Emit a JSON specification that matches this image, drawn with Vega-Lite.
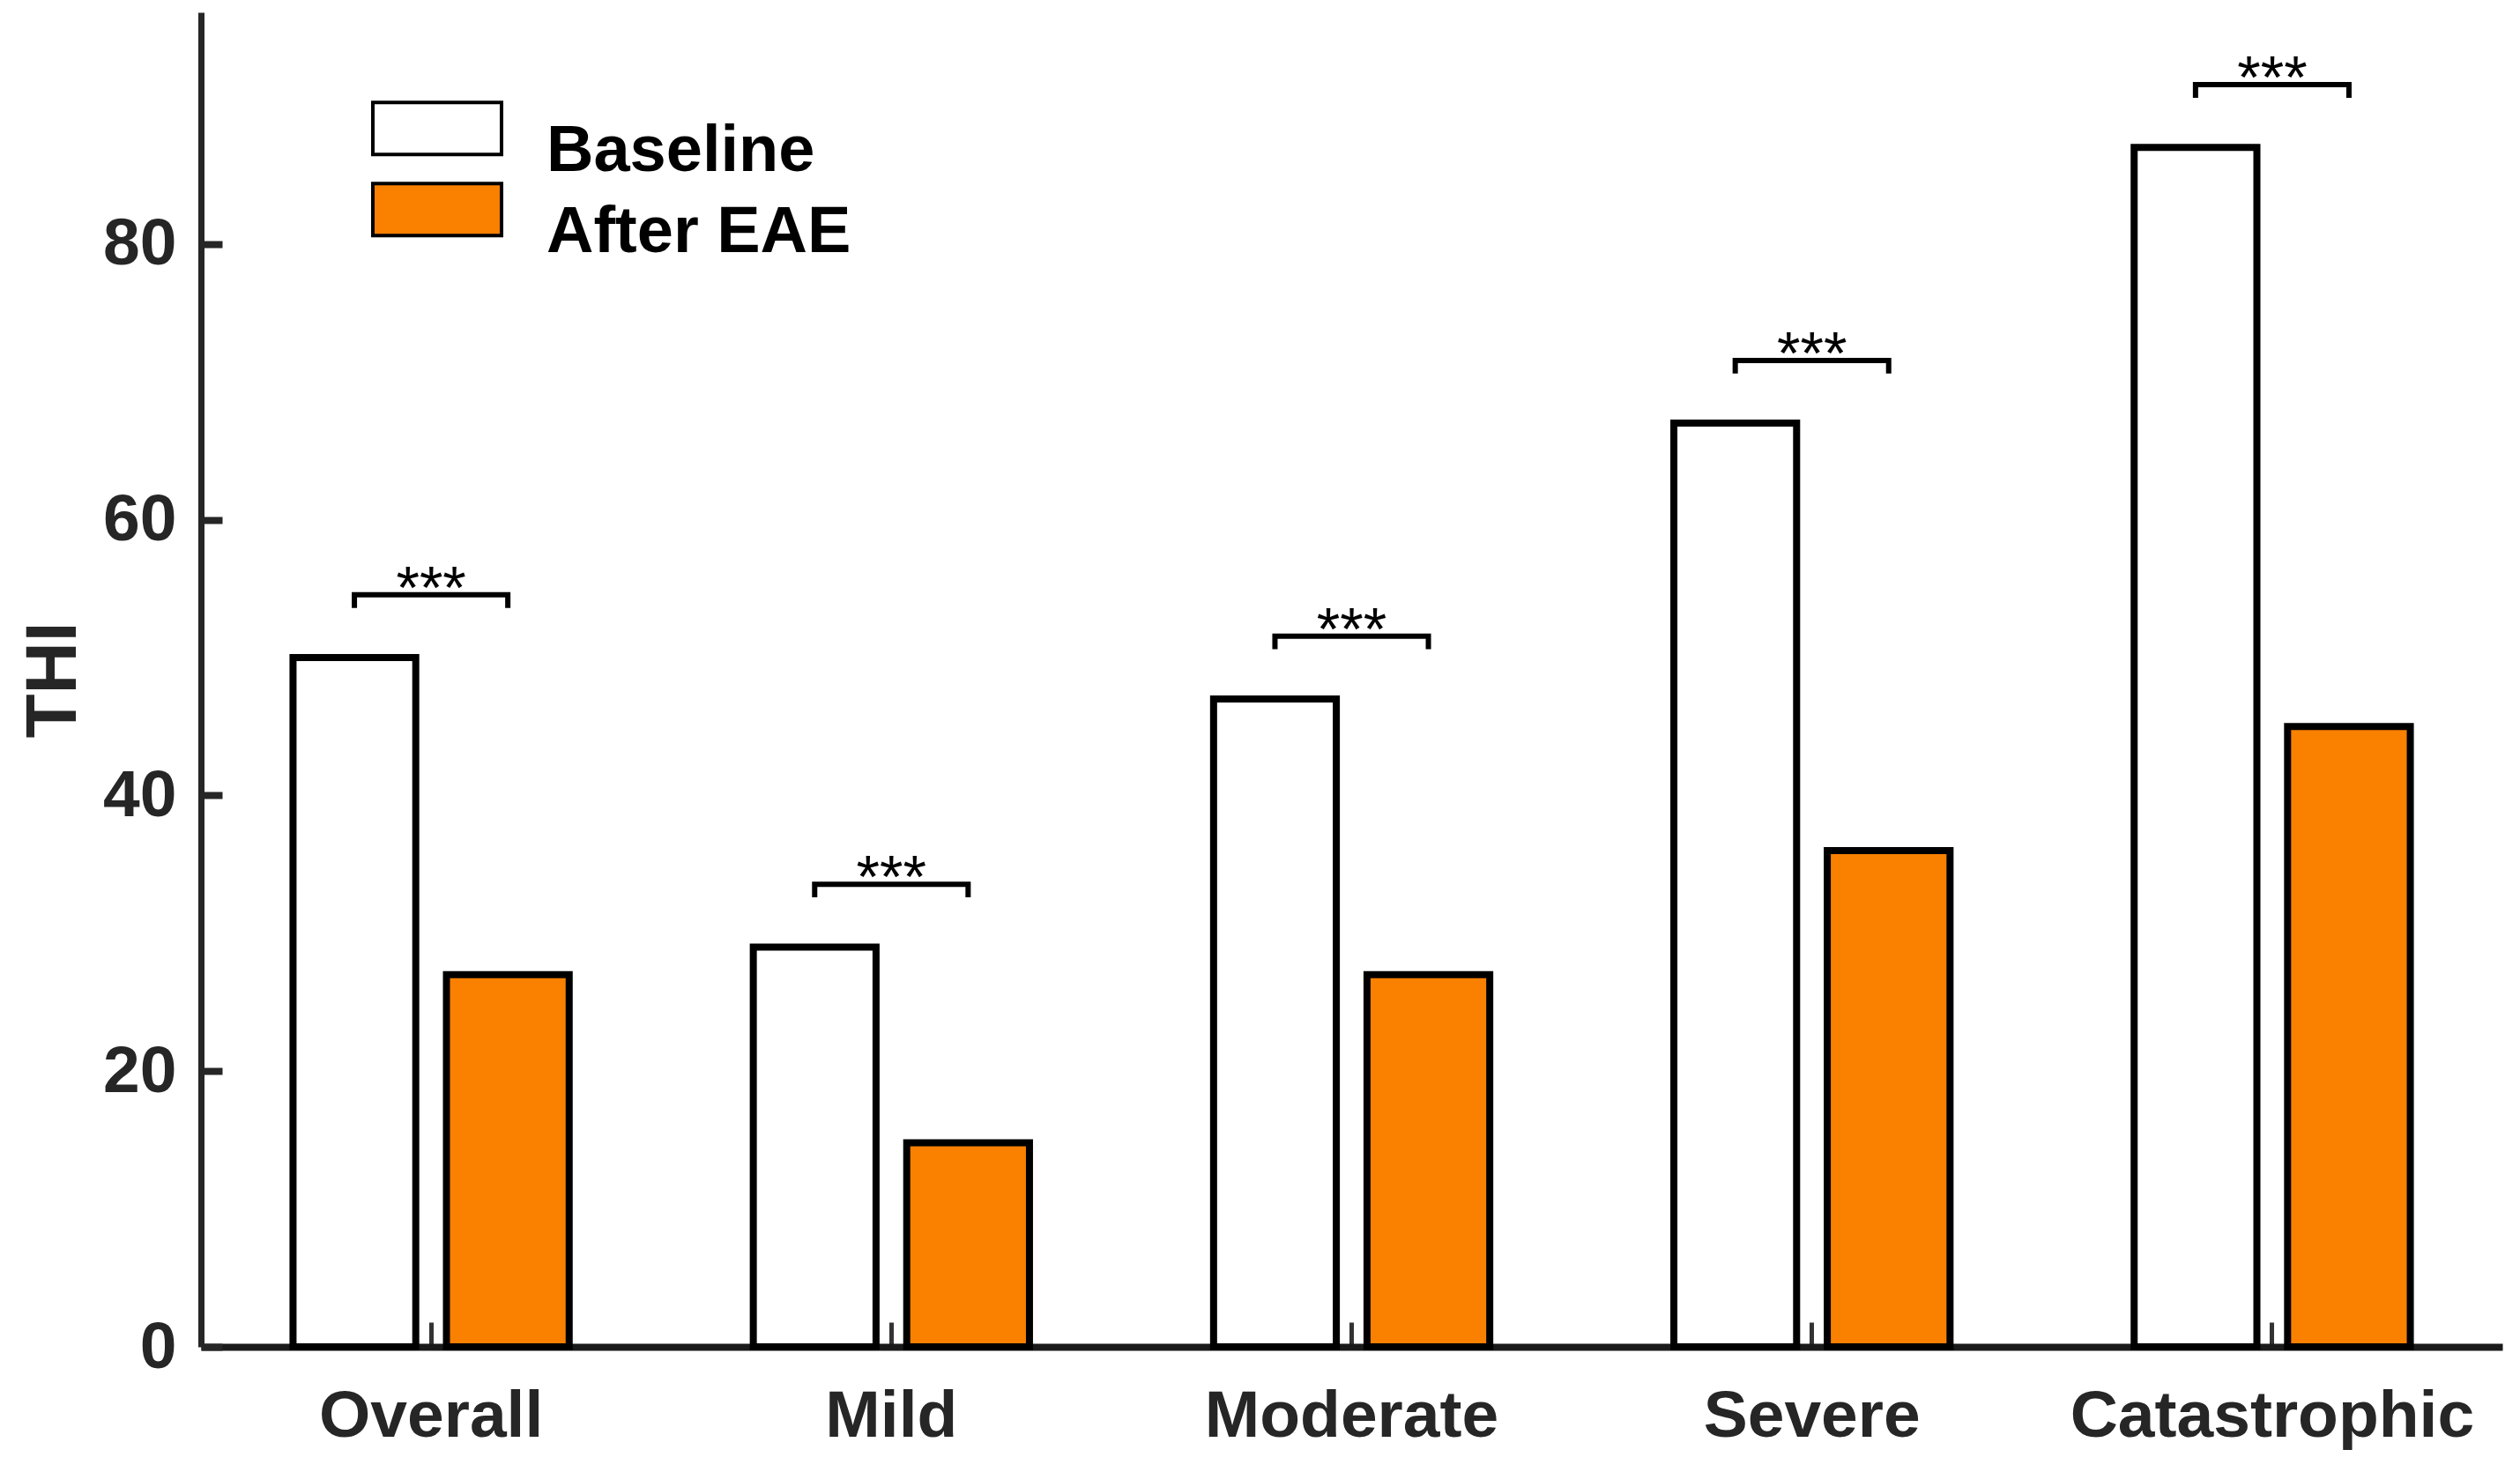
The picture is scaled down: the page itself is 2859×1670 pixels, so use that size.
{
  "$schema": "https://vega.github.io/schema/vega-lite/v6.json",
  "autosize": {"type": "none"},
  "padding": {"left": 228, "top": 14, "right": 20, "bottom": 142},
  "width": 2611,
  "height": 1514,
  "background": "white",
  "config": {"view": {"stroke": null}, "font": "Liberation Sans"},
  "datasets": {
    "bars": [
      {"group": "Overall", "condition": "Baseline", "THI": 50},
      {"group": "Overall", "condition": "After EAE", "THI": 27},
      {"group": "Mild", "condition": "Baseline", "THI": 29},
      {"group": "Mild", "condition": "After EAE", "THI": 14.8},
      {"group": "Moderate", "condition": "Baseline", "THI": 47},
      {"group": "Moderate", "condition": "After EAE", "THI": 27},
      {"group": "Severe", "condition": "Baseline", "THI": 67},
      {"group": "Severe", "condition": "After EAE", "THI": 36},
      {"group": "Catastrophic", "condition": "Baseline", "THI": 87},
      {"group": "Catastrophic", "condition": "After EAE", "THI": 45}
    ],
    "brackets": [
      {"group": "Overall", "condition": "Baseline", "k": 1, "y": 53.6},
      {"group": "Overall", "condition": "Baseline", "k": 2, "y": 54.55},
      {"group": "Overall", "condition": "After EAE", "k": 3, "y": 54.55},
      {"group": "Overall", "condition": "After EAE", "k": 4, "y": 53.6},
      {"group": "Mild", "condition": "Baseline", "k": 1, "y": 32.6},
      {"group": "Mild", "condition": "Baseline", "k": 2, "y": 33.55},
      {"group": "Mild", "condition": "After EAE", "k": 3, "y": 33.55},
      {"group": "Mild", "condition": "After EAE", "k": 4, "y": 32.6},
      {"group": "Moderate", "condition": "Baseline", "k": 1, "y": 50.6},
      {"group": "Moderate", "condition": "Baseline", "k": 2, "y": 51.55},
      {"group": "Moderate", "condition": "After EAE", "k": 3, "y": 51.55},
      {"group": "Moderate", "condition": "After EAE", "k": 4, "y": 50.6},
      {"group": "Severe", "condition": "Baseline", "k": 1, "y": 70.6},
      {"group": "Severe", "condition": "Baseline", "k": 2, "y": 71.55},
      {"group": "Severe", "condition": "After EAE", "k": 3, "y": 71.55},
      {"group": "Severe", "condition": "After EAE", "k": 4, "y": 70.6},
      {"group": "Catastrophic", "condition": "Baseline", "k": 1, "y": 90.6},
      {"group": "Catastrophic", "condition": "Baseline", "k": 2, "y": 91.55},
      {"group": "Catastrophic", "condition": "After EAE", "k": 3, "y": 91.55},
      {"group": "Catastrophic", "condition": "After EAE", "k": 4, "y": 90.6}
    ],
    "stars": [
      {"group": "Overall", "y": 54.55, "label": "***"},
      {"group": "Mild", "y": 33.55, "label": "***"},
      {"group": "Moderate", "y": 51.55, "label": "***"},
      {"group": "Severe", "y": 71.55, "label": "***"},
      {"group": "Catastrophic", "y": 91.55, "label": "***"}
    ]
  },
  "layer": [
    {
      "data": {"name": "bars"},
      "mark": {"type": "bar", "stroke": "black", "strokeWidth": 8},
      "encoding": {
        "x": {
          "field": "group", "type": "nominal",
          "sort": ["Overall", "Mild", "Moderate", "Severe", "Catastrophic"],
          "scale": {"paddingInner": 0.4, "paddingOuter": 0.2},
          "title": null,
          "axis": {
            "labelAngle": 0, "labelLimit": 0,
            "domainColor": "#1a1a1a", "domainWidth": 8,
            "ticks": true, "tickSize": -28, "tickWidth": 5, "tickColor": "#333333",
            "labelFont": "Liberation Sans", "labelFontSize": 75, "labelFontWeight": "bold",
            "labelColor": "#262626", "labelPadding": 70
          }
        },
        "xOffset": {
          "field": "condition", "type": "nominal",
          "sort": ["Baseline", "After EAE"],
          "scale": {"paddingInner": 0.2, "paddingOuter": 0}
        },
        "y": {
          "field": "THI", "type": "quantitative",
          "scale": {"domain": [0, 96.8], "nice": false, "zero": true},
          "title": "THI",
          "axis": {
            "values": [0, 20, 40, 60, 80], "grid": false,
            "domainColor": "#262626", "domainWidth": 7,
            "tickColor": "#262626", "tickWidth": 8, "tickSize": -24,
            "labelFont": "Liberation Sans", "labelFontSize": 75, "labelFontWeight": "bold",
            "labelColor": "#262626", "labelPadding": 52,
            "titleFont": "Liberation Sans", "titleFontSize": 82, "titleFontWeight": "bold",
            "titleColor": "#262626", "titlePadding": 14
          }
        },
        "fill": {
          "field": "condition", "type": "nominal",
          "sort": ["Baseline", "After EAE"],
          "scale": {"domain": ["Baseline", "After EAE"], "range": ["#ffffff", "#FA8000"]},
          "legend": {
            "orient": "none", "legendX": 231, "legendY": 121,
            "title": null, "padding": 0,
            "symbolType": "M-2.433,-1.860L2.433,-1.860L2.433,0.106L-2.433,0.106Z",
            "symbolSize": 3600,
            "symbolStrokeColor": "black", "symbolStrokeWidth": 4,
            "labelFont": "Liberation Sans", "labelFontSize": 74, "labelFontWeight": "bold",
            "labelColor": "black", "labelBaseline": "middle", "labelLimit": 0,
            "labelOffset": 87, "rowPadding": -9
          }
        }
      }
    },
    {
      "data": {"name": "brackets"},
      "mark": {"type": "line", "stroke": "black", "strokeWidth": 6, "strokeJoin": "miter", "strokeCap": "butt"},
      "encoding": {
        "x": {"field": "group", "type": "nominal", "sort": ["Overall", "Mild", "Moderate", "Severe", "Catastrophic"]},
        "xOffset": {"field": "condition", "type": "nominal", "sort": ["Baseline", "After EAE"]},
        "y": {"field": "y", "type": "quantitative"},
        "detail": {"field": "group"},
        "order": {"field": "k", "type": "quantitative"}
      }
    },
    {
      "data": {"name": "stars"},
      "mark": {"type": "text", "font": "Liberation Sans", "fontSize": 68, "fontWeight": "normal", "color": "black", "baseline": "alphabetic", "align": "center", "dy": 15},
      "encoding": {
        "x": {"field": "group", "type": "nominal", "sort": ["Overall", "Mild", "Moderate", "Severe", "Catastrophic"]},
        "y": {"field": "y", "type": "quantitative"},
        "text": {"field": "label"}
      }
    }
  ]
}
